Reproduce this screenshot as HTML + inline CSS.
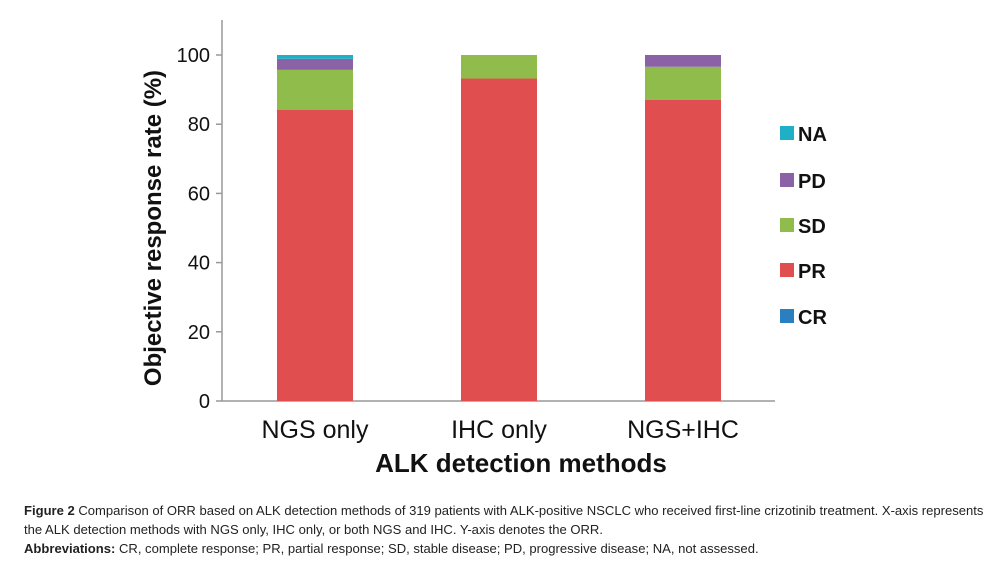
<!DOCTYPE html>
<html><head><meta charset="utf-8"><style>
body{margin:0;background:#fff;width:1002px;height:563px;overflow:hidden;font-family:"Liberation Sans",sans-serif}
.cap{position:absolute;left:24px;font-size:13.05px;color:#222;font-family:"Liberation Sans",sans-serif;white-space:nowrap}
</style></head><body>
<svg id="chart" width="1002" height="490" style="position:absolute;left:0;top:0" font-family="Liberation Sans, sans-serif"></svg>
<div class="cap" style="top:503px"><b>Figure 2</b> Comparison of ORR based on ALK detection methods of 319 patients with ALK-positive NSCLC who received first-line crizotinib treatment. X-axis represents</div>
<div class="cap" style="top:522px">the ALK detection methods with NGS only, IHC only, or both NGS and IHC. Y-axis denotes the ORR.</div>
<div class="cap" style="top:541px"><b>Abbreviations:</b> CR, complete response; PR, partial response; SD, stable disease; PD, progressive disease; NA, not assessed.</div>
<script>
const categories=["NGS only","IHC only","NGS+IHC"];
const seriesNames=["CR","PR","SD","PD","NA"];
const CR=[0,0,0];
const PR=[84.2,93.2,87];
const SD=[11.5,6.8,9.6];
const PD=[3.2,0,3.4];
const NA=[1.1,0,0];
const yTicks=[0,20,40,60,80,100];
const colors=["#2a7fc0","#e04e4f","#8fbc4b","#8a62a5","#1fb0c8"];
const svg=document.getElementById('chart');
const NS="http://www.w3.org/2000/svg";
function el(t,a,p){const e=document.createElementNS(NS,t);for(const k in a)e.setAttribute(k,a[k]);(p||svg).appendChild(e);return e;}
const y0=401,y1=55,xAxis=222;
const yS=v=>y0-(v/100)*(y0-y1);
const xC=i=>315+i*184;
const bw=76;
let a=el('line',{x1:xAxis,y1:20,x2:xAxis,y2:y0,stroke:'#999','stroke-width':1.5});

a=el('line',{x1:xAxis,y1:y0,x2:775,y2:y0,stroke:'#999','stroke-width':1.5});

yTicks.forEach(v=>{
 const t=el('line',{x1:xAxis-6,y1:yS(v),x2:xAxis,y2:yS(v),stroke:'#999','stroke-width':1.5});
 
 const l=el('text',{x:xAxis-12,y:yS(v)+7,'text-anchor':'end','font-size':20,fill:'#111'});l.textContent=v;
 
});
const series=[CR,PR,SD,PD,NA];
categories.forEach((c,i)=>{
 let cum=0;
 series.forEach((s,k)=>{
  const v=s[i];if(v<=0)return;
  const r=el('rect',{x:xC(i)-bw/2,y:yS(cum+v),width:bw,height:yS(cum)-yS(cum+v),fill:colors[k]});
  
  cum+=v;
 });
 const l=el('text',{x:xC(i),y:438,'text-anchor':'middle','font-size':25,fill:'#111'});l.textContent=c;
 
});
let t=el('text',{x:521,y:472,'text-anchor':'middle','font-size':26,'font-weight':'bold',fill:'#111'});t.textContent="ALK detection methods";

t=el('text',{x:0,y:0,transform:'translate(161,228) rotate(-90)','text-anchor':'middle','font-size':24,'font-weight':'bold',fill:'#111'});t.textContent="Objective response rate (%)";

const ly=[316,270,225,180,133];
seriesNames.forEach((n,k)=>{
 const g=el('g',{});
 
 el('rect',{x:780,y:ly[k]-7,width:14,height:14,fill:colors[k]},g);
 const l=el('text',{x:798,y:ly[k]+8,'font-size':20,'font-weight':'bold',fill:'#111'},g);l.textContent=n;
});
</script>
</body></html>
